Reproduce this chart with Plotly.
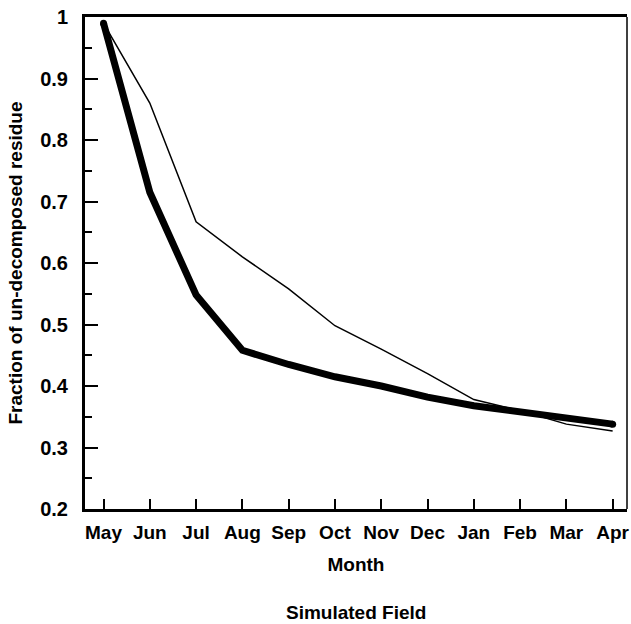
import plotly.graph_objects as go

months = ["May", "Jun", "Jul", "Aug", "Sep", "Oct", "Nov", "Dec", "Jan", "Feb", "Mar", "Apr"]
thick_series = [0.99, 0.715, 0.548, 0.458, 0.435, 0.415, 0.400, 0.382, 0.368, 0.358, 0.348, 0.338]
thin_series = [0.99, 0.86, 0.667, 0.610, 0.558, 0.498, 0.460, 0.420, 0.378, 0.360, 0.338, 0.327]
y_ticks = [0.2, 0.3, 0.4, 0.5, 0.6, 0.7, 0.8, 0.9, 1.0]
y_tick_labels = ["0.2", "0.3", "0.4", "0.5", "0.6", "0.7", "0.8", "0.9", "1"]

x_idx = list(range(len(months)))
FONT = "Liberation Sans, Arial, sans-serif"

fig = go.Figure()
fig.add_trace(go.Scatter(x=x_idx, y=thin_series, mode="lines",
                         line=dict(color="black", width=1.5), showlegend=False))
fig.add_trace(go.Scatter(x=x_idx, y=thick_series, mode="lines",
                         line=dict(color="black", width=7), showlegend=False))
fig.add_trace(go.Scatter(x=[x_idx[0], x_idx[-1]], y=[thick_series[0], thick_series[-1]],
                         mode="markers", marker=dict(color="black", size=7),
                         showlegend=False))

fig.update_layout(
    width=631, height=624,
    margin=dict(l=85, r=4, t=17, b=115),
    paper_bgcolor="white", plot_bgcolor="white",
    font=dict(family=FONT, color="black"),
    xaxis=dict(
        range=[-0.4, 11.31], tickmode="array", tickvals=x_idx, ticktext=months,
        ticks="inside", ticklen=10, tickwidth=1.5, tickcolor="black",
        showline=True, linewidth=3, linecolor="black", mirror=True,
        showgrid=False, zeroline=False, automargin=False,
        tickfont=dict(family=FONT, size=19, color="black", weight="bold"),
        ticklabelstandoff=4,
        title=dict(text="<b>Month</b>", font=dict(family=FONT, size=19), standoff=16),
    ),
    yaxis=dict(
        range=[0.2, 1.0], tickmode="array", tickvals=y_ticks, ticktext=y_tick_labels,
        ticks="inside", ticklen=13, tickwidth=1.5, tickcolor="black",
        minor=dict(dtick=0.05, ticks="inside", ticklen=7, tickwidth=1.5, tickcolor="black", showgrid=False),
        showline=True, linewidth=3, linecolor="black",
        showgrid=False, zeroline=False, automargin=False,
        tickfont=dict(family=FONT, size=20, color="black", weight="bold"),
        ticklabelstandoff=10,
        title=dict(text="<b>Fraction of un-decomposed residue</b>", font=dict(family=FONT, size=19), standoff=13),
    ),
    shapes=[dict(type="line", xref="paper", yref="paper", x0=1, x1=1, y0=0, y1=1,
                 line=dict(color="black", width=1.5))],
    annotations=[dict(text="<b>Simulated Field</b>", xref="paper", yref="paper",
                      x=0.5, y=0, yanchor="middle", yshift=-103, showarrow=False,
                      font=dict(family=FONT, size=19, color="black"))],
)

fig.write_html("out.html", config={"displayModeBar": False},
               post_script="document.body.style.margin='0';document.body.style.overflow='hidden';")
